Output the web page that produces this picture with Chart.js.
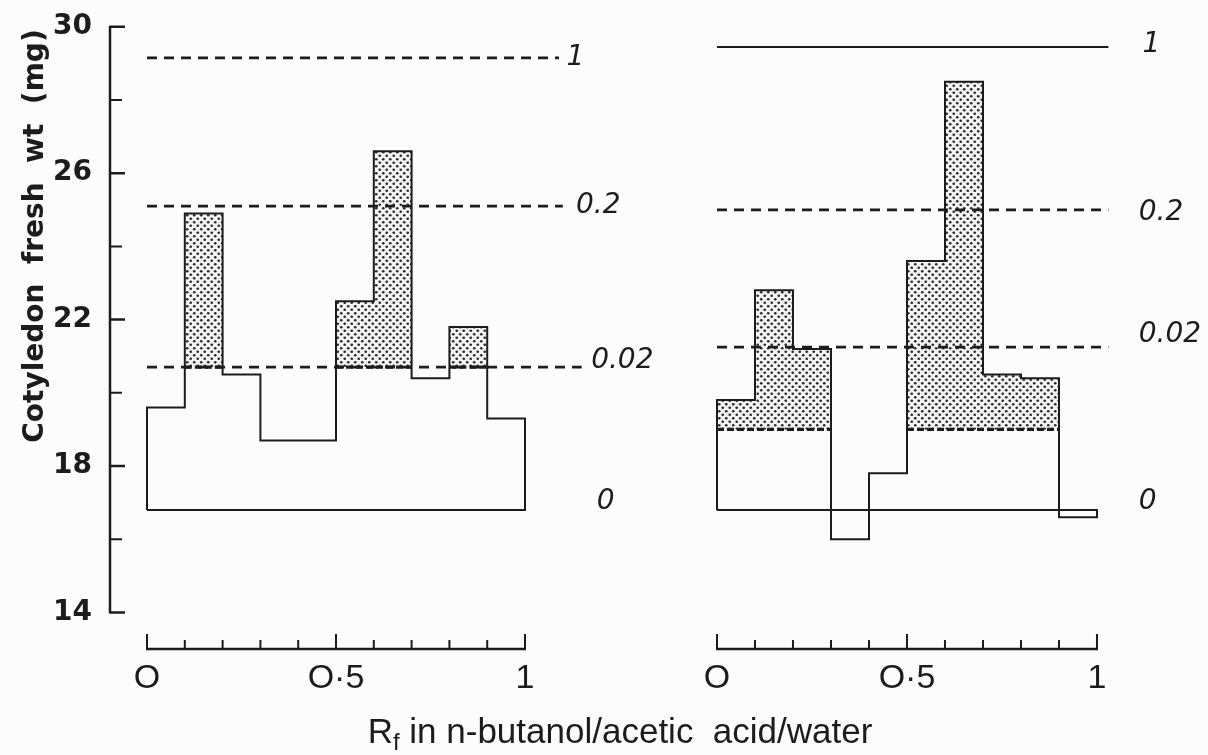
<!DOCTYPE html>
<html lang="en">
<head>
<meta charset="UTF-8">
<title>Cotyledon fresh weight along Rf strips</title>
<style>
  body { margin: 0; background: #fcfcfc; }
  #wrap { width: 1208px; height: 755px; }
</style>
</head>
<body>
<div id="wrap"><canvas id="rfChart" width="1208" height="755"></canvas></div>

<script src="https://cdn.jsdelivr.net/npm/chart.js"></script>
<script>
// Rf strip cut into ten segments (lower edge of each)
const binStarts = [0, 0.1, 0.2, 0.3, 0.4, 0.5, 0.6, 0.7, 0.8, 0.9];
const binWidth = 0.1;

// left strip: cotyledon fresh wt (mg) per segment
const leftWeights = [19.6, 24.9, 20.5, 18.7, 18.7, 22.5, 26.6, 20.4, 21.8, 19.3];
const leftControl = 16.8;
const leftStippleFrom = 20.7;
const leftStippled = [0, 1, 0, 0, 0, 1, 1, 0, 1, 0];
const leftStdLevels = [29.15, 25.1, 20.7];

// right strip
const rightWeights = [19.8, 22.8, 21.2, 16.0, 17.8, 23.6, 28.5, 20.5, 20.4, 16.6];
const rightControl = 16.8;
const rightStippleFrom = 19.0;
const rightStippled = [1, 1, 1, 0, 0, 1, 1, 1, 1, 0];
const rightStdLevels = [29.45, 25.0, 21.25];

// standard concentrations drawn as horizontal lines
const stdNames = ['1', '0.2', '0.02'];
const controlName = '0';

const yTicks = [14, 18, 22, 26, 30];
const yMinorTicks = [16, 20, 24, 28];
const xTickValues = [0, 0.5, 1];
const xTickLabels = ['O', 'O·5', '1'];

const yTitle = 'Cotyledon  fresh  wt  (mg)';
const xTitleMain = 'R';
const xTitleSub = 'f';
const xTitleRest = ' in n-butanol/acetic  acid/water';

const ink = '#1c1c1c';

// closed outline of a strip histogram, walked with stepped segments
function outline(weights, control) {
  const pts = [{ x: 0, y: control }];
  weights.forEach((w, i) => pts.push({ x: binStarts[i], y: w }));
  pts.push({ x: 1, y: weights[weights.length - 1] });
  pts.push({ x: 1, y: control });
  pts.push({ x: 0, y: control });
  return pts;
}

function stippleBars(weights, flags, from) {
  return binStarts
    .map((s, i) => flags[i] ? { x: s + binWidth / 2, y: [from, weights[i]] } : null)
    .filter(Boolean);
}

// dark dashed edge along the bottom of each stippled run
function stippleBase(flags, from) {
  const pts = [];
  binStarts.forEach((s, i) => {
    if (!flags[i]) return;
    if (i === 0 || !flags[i - 1]) {
      if (pts.length) pts.push({ x: s, y: null });
      pts.push({ x: s, y: from });
    }
    pts.push({ x: s + binWidth, y: from });
  });
  return pts;
}

function stipplePattern() {
  const c = document.createElement('canvas');
  c.width = 7; c.height = 7;
  const g = c.getContext('2d');
  g.fillStyle = '#f4f4f4';
  g.fillRect(0, 0, 7, 7);
  g.fillStyle = '#2a2a2a';
  [[1.75, 1.75], [5.25, 5.25]].forEach(([x, y]) => {
    g.beginPath(); g.arc(x, y, 1.35, 0, Math.PI * 2); g.fill();
  });
  return g.createPattern(c, 'repeat');
}
const dots = stipplePattern();

function stdLine(level, end, axis, dashed) {
  return {
    type: 'line', xAxisID: axis, data: [{ x: 0, y: level }, { x: end, y: level }],
    borderColor: ink, borderWidth: dashed ? 2.7 : 2, borderDash: dashed ? [10, 7] : [],
    pointRadius: 0, order: 1
  };
}

const leftLineEnds = [1.09, 1.10, 1.15];
const rightLineEnds = [1.03, 1.03, 1.03];

const datasets = [
  { type: 'bar', xAxisID: 'xL', data: stippleBars(leftWeights, leftStippled, leftStippleFrom),
    backgroundColor: dots, borderWidth: 0, barPercentage: 1, categoryPercentage: 1, grouped: false, order: 5 },
  { type: 'bar', xAxisID: 'xR', data: stippleBars(rightWeights, rightStippled, rightStippleFrom),
    backgroundColor: dots, borderWidth: 0, barPercentage: 1, categoryPercentage: 1, grouped: false, order: 5 },
  { type: 'line', xAxisID: 'xL', data: outline(leftWeights, leftControl), stepped: true,
    borderColor: ink, borderWidth: 2, pointRadius: 0, order: 2 },
  { type: 'line', xAxisID: 'xR', data: outline(rightWeights, rightControl), stepped: true,
    borderColor: ink, borderWidth: 2, pointRadius: 0, order: 2 },
  { type: 'line', xAxisID: 'xL', data: stippleBase(leftStippled, leftStippleFrom),
    borderColor: ink, borderWidth: 3.2, borderDash: [7, 3], pointRadius: 0, spanGaps: false, order: 1 },
  { type: 'line', xAxisID: 'xR', data: stippleBase(rightStippled, rightStippleFrom),
    borderColor: ink, borderWidth: 3.2, borderDash: [7, 3], pointRadius: 0, spanGaps: false, order: 1 }
];
leftStdLevels.forEach((lv, i) => datasets.push(stdLine(lv, leftLineEnds[i], 'xL', true)));
rightStdLevels.forEach((lv, i) => datasets.push(stdLine(lv, rightLineEnds[i], 'xR', i > 0)));

// axes, tick marks and all the lettering
const stripAxes = {
  id: 'stripAxes',
  afterDraw(chart) {
    const { ctx, chartArea, scales } = chart;
    const y = scales.y;
    ctx.save();
    ctx.strokeStyle = ink;
    ctx.fillStyle = ink;
    ctx.lineWidth = 2.5;

    const x0 = chartArea.left;
    ctx.beginPath();
    ctx.moveTo(x0, y.getPixelForValue(30) - 1);
    ctx.lineTo(x0, y.getPixelForValue(14) + 1);
    yTicks.forEach(v => { const p = y.getPixelForValue(v); ctx.moveTo(x0, p); ctx.lineTo(x0 + 15, p); });
    ctx.stroke();
    ctx.lineWidth = 2;
    ctx.beginPath();
    yMinorTicks.forEach(v => { const p = y.getPixelForValue(v); ctx.moveTo(x0, p); ctx.lineTo(x0 + 12, p); });
    ctx.stroke();

    const yb = y.getPixelForValue(13);
    [scales.xL, scales.xR].forEach(xs => {
      ctx.lineWidth = 2.5;
      ctx.beginPath();
      ctx.moveTo(xs.getPixelForValue(0) - 1, yb);
      ctx.lineTo(xs.getPixelForValue(1) + 1, yb);
      ctx.stroke();
      ctx.lineWidth = 2;
      ctx.beginPath();
      binStarts.concat([1]).forEach(v => {
        const p = xs.getPixelForValue(v);
        const major = xTickValues.includes(v);
        ctx.moveTo(p, yb);
        ctx.lineTo(p, yb - (major ? 15 : 9));
      });
      ctx.stroke();
      ctx.font = '34px "Liberation Sans"';
      ctx.textAlign = 'center';
      ctx.textBaseline = 'alphabetic';
      xTickValues.forEach((v, i) => ctx.fillText(xTickLabels[i], xs.getPixelForValue(v), 688));
    });

    // names of the standard lines
    ctx.font = 'italic 28px "DejaVu Sans"';
    ctx.textAlign = 'left';
    ctx.textBaseline = 'middle';
    const leftLabelX = [1.11, 1.135, 1.175];
    const rightLabelX = [1.12, 1.11, 1.11];
    const leftLabelDy = [0, 0, -6];
    const rightLabelDy = [-2, 3, -12];
    leftStdLevels.forEach((lv, i) =>
      ctx.fillText(stdNames[i], scales.xL.getPixelForValue(leftLabelX[i]), y.getPixelForValue(lv) + leftLabelDy[i]));
    rightStdLevels.forEach((lv, i) =>
      ctx.fillText(stdNames[i], scales.xR.getPixelForValue(rightLabelX[i]), y.getPixelForValue(lv) + rightLabelDy[i]));
    ctx.fillText(controlName, scales.xL.getPixelForValue(1.19), y.getPixelForValue(leftControl) - 8);
    ctx.fillText(controlName, scales.xR.getPixelForValue(1.11), y.getPixelForValue(rightControl) - 8);

    // vertical title
    ctx.save();
    ctx.translate(43, 236);
    ctx.rotate(-Math.PI / 2);
    ctx.font = 'bold 28px "DejaVu Sans"';
    ctx.textAlign = 'center';
    ctx.textBaseline = 'alphabetic';
    ctx.fillText(yTitle, 0, 0);
    ctx.restore();

    // bottom title with subscript f
    ctx.textBaseline = 'alphabetic';
    ctx.textAlign = 'left';
    const big = '35px "Liberation Sans"', small = '24px "Liberation Sans"';
    ctx.font = big;
    const wR = ctx.measureText(xTitleMain).width;
    const wRest = ctx.measureText(xTitleRest).width;
    ctx.font = small;
    const wSub = ctx.measureText(xTitleSub).width;
    let tx = 620 - (wR + wSub + wRest) / 2;
    ctx.font = big;
    ctx.fillText(xTitleMain, tx, 743);
    tx += wR;
    ctx.font = small;
    ctx.fillText(xTitleSub, tx, 750);
    tx += wSub;
    ctx.font = big;
    ctx.fillText(xTitleRest, tx, 743);

    ctx.restore();
  }
};

new Chart(document.getElementById('rfChart'), {
  type: 'line',
  data: { datasets },
  options: {
    responsive: false,
    devicePixelRatio: 1,
    animation: false,
    layout: { padding: { top: 24, right: 8, bottom: 106, left: 0 } },
    plugins: { legend: { display: false }, tooltip: { enabled: false } },
    elements: { line: { tension: 0 } },
    scales: {
      y: {
        min: 13, max: 30,
        afterBuildTicks: s => { s.ticks = yTicks.map(v => ({ value: v })); },
        afterFit: s => { s.width = 110; },
        grid: { display: false },
        border: { display: false },
        ticks: { color: ink, padding: 10, font: { family: 'DejaVu Sans', weight: 'bold', size: 28 } }
      },
      xL: {
        type: 'linear', position: 'bottom', display: false, offset: false, min: -0.0979, max: 2.7857,
        afterBuildTicks: s => { s.ticks = xTickValues.map(v => ({ value: v })); }
      },
      xR: {
        type: 'linear', position: 'bottom', display: false, offset: false, min: -1.5974, max: 1.2711,
        afterBuildTicks: s => { s.ticks = xTickValues.map(v => ({ value: v })); }
      }
    }
  },
  plugins: [stripAxes]
});
</script>
</body>
</html>
